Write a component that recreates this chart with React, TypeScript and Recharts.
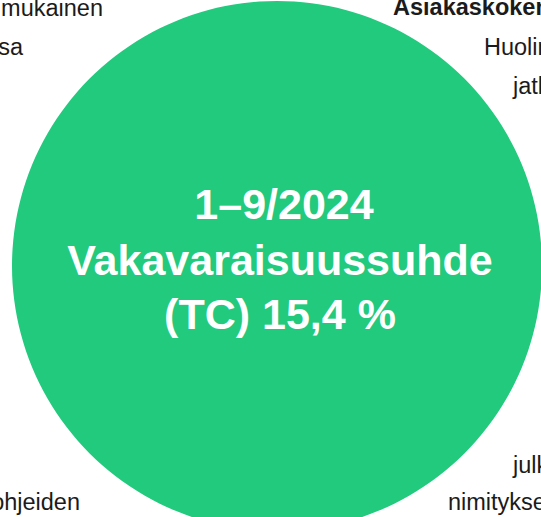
import { PieChart, Pie, Cell } from 'recharts';

// Vakavaraisuussuhde (TC), 1–9/2024
const PERIOD = '1–9/2024';
const METRIC = 'Vakavaraisuussuhde';
const RATIO_NAMES = ['Vakavaraisuussuhde (TC)'];
const RATIO_VALUES = [15.4];

// neighbouring text that is cropped by the frame
const LEFT_TEXTS = ['mukainen', 'ratkaisussa', 'ohjeiden'];
const RIGHT_TEXTS = ['Asiakaskokemus', 'Huolimatta', 'jatkuvasti', 'julkaisi', 'nimityksen'];

const GREEN = '#21CA7D';
const INK = '#1b1b1b';
const FONT = '"Liberation Sans", Arial, sans-serif';

const data = RATIO_NAMES.map((name, i) => ({ name, value: RATIO_VALUES[i] }));

const fmt = (v: number) => v.toFixed(1).replace('.', ',');

// white three-line caption in the middle of the disc
const CenterLabel = (props: any) => {
  const { cx, cy, value } = props;
  return (
    <g fontFamily={FONT} fontSize={43} fontWeight="bold" fill="#ffffff" textAnchor="middle">
      <text x={cx + 7} y={cy - 47} fill="#ffffff">{PERIOD}</text>
      <text x={cx + 3} y={cy + 9} fill="#ffffff">{METRIC}</text>
      <text x={cx + 3} y={cy + 63} fill="#ffffff">{`(TC) ${fmt(value)} %`}</text>
    </g>
  );
};

export default function App() {
  return (
    <div style={{ position: 'absolute', left: 0, top: 0, width: 541, height: 517, background: '#fff' }}>
      <PieChart width={541} height={517} margin={{ top: 0, right: 0, bottom: 0, left: 0 }}>
        <g fontFamily={FONT} fontSize={23.5} fill={INK}>
          <text x={103} y={16} textAnchor="end">{LEFT_TEXTS[0]}</text>
          <text x={23} y={55} textAnchor="end">{LEFT_TEXTS[1]}</text>
          <text x={80} y={510} textAnchor="end">{LEFT_TEXTS[2]}</text>
          <text x={393} y={15} fontWeight="bold">{RIGHT_TEXTS[0]}</text>
          <text x={484} y={55}>{RIGHT_TEXTS[1]}</text>
          <text x={513} y={94}>{RIGHT_TEXTS[2]}</text>
          <text x={513} y={473}>{RIGHT_TEXTS[3]}</text>
          <text x={448} y={510}>{RIGHT_TEXTS[4]}</text>
        </g>
        <Pie
          data={data}
          dataKey="value"
          nameKey="name"
          cx={277}
          cy={266}
          innerRadius={0}
          outerRadius={265}
          startAngle={90}
          endAngle={-270}
          stroke="none"
          label={CenterLabel}
          labelLine={false}
          isAnimationActive={false}
        >
          {data.map((d) => (
            <Cell key={d.name} fill={GREEN} />
          ))}
        </Pie>
      </PieChart>
    </div>
  );
}
